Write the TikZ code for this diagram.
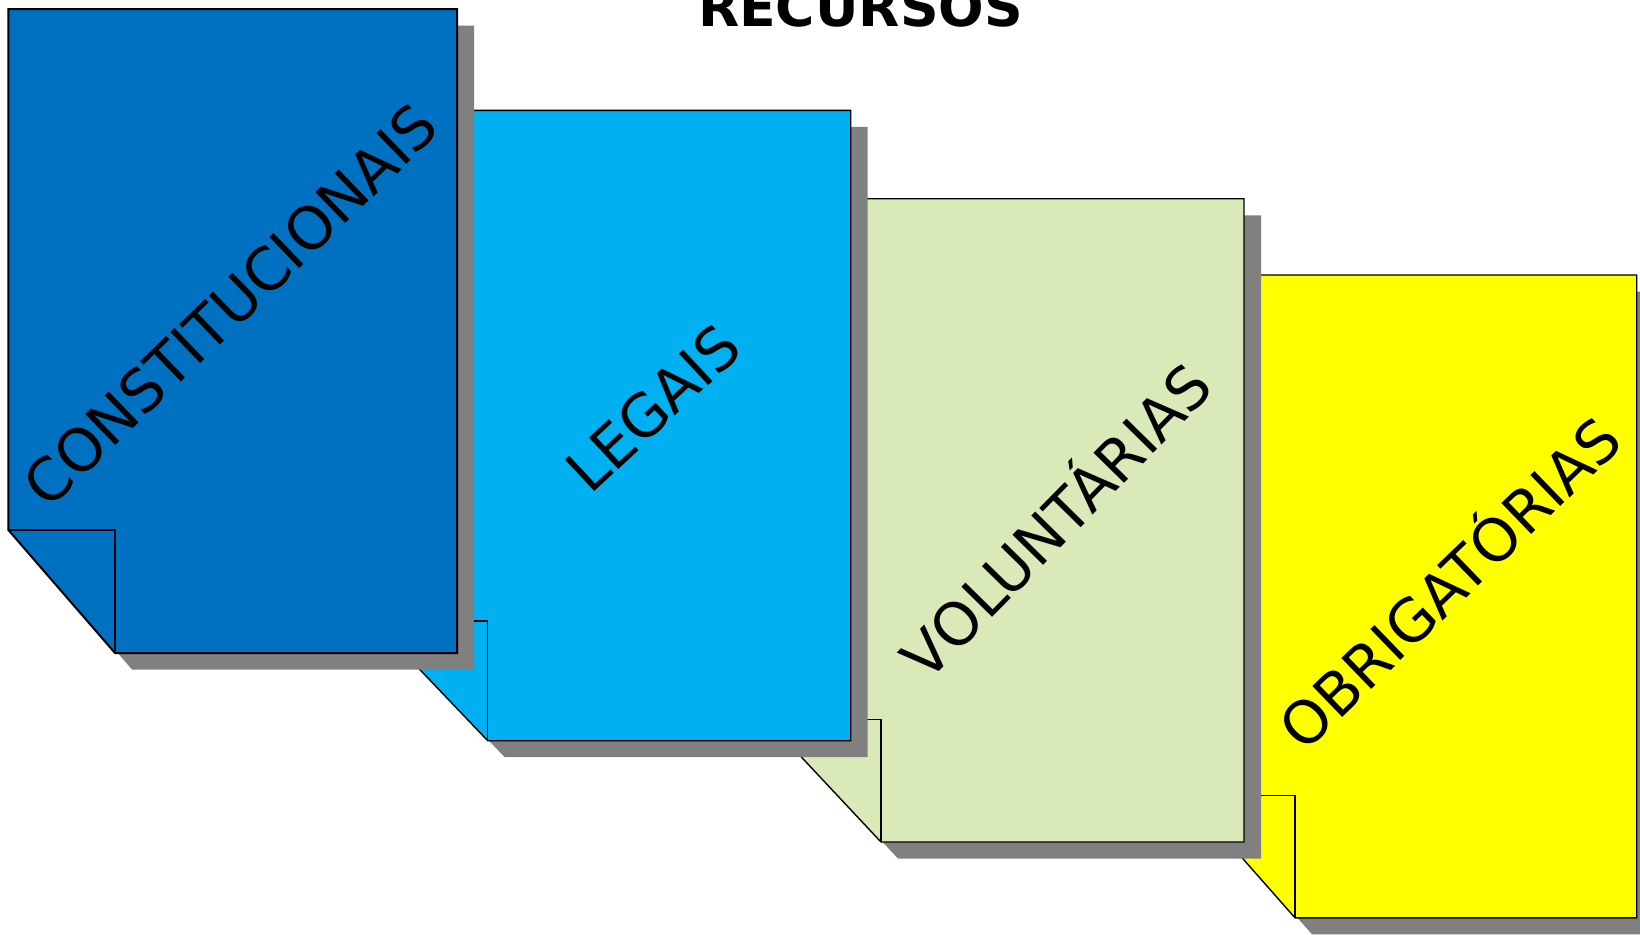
\documentclass[tikz,border=0pt]{standalone}
\usepackage{fontspec}
\newfontfamily\dejavu{DejaVu Sans}
\definecolor{azulescuro}{HTML}{0070C0}
\definecolor{azulclaro}{HTML}{00B0F0}
\definecolor{verdeclaro}{HTML}{D9E9B7}
\definecolor{amarelo}{HTML}{FFFF00}
\definecolor{sombra}{HTML}{808080}
\tikzset{
  sheetshadow/.style={fill=sombra, shift={(17,16.5)}},
  sheetlabel/.style={font=\dejavu\fontsize{29.5}{33}\selectfont, anchor=base, inner sep=0pt, text=black},
  titlelabel/.style={font=\dejavu\bfseries\fontsize{26.8}{30}\selectfont, anchor=base, inner sep=0pt},
}
% sheet with a folded lower-left corner and a drop shadow
% #1 left, #2 top, #3 right, #4 bottom, #5 fold x, #6 fold y, #7 colour, #8 line width
\newcommand{\recpage}[8]{%
  \fill[sheetshadow] (#1,#2) -- (#3,#2) -- (#3,#4) -- (#5,#4) -- (#1,#6) -- cycle;
  \filldraw[fill=#7, draw=black, line width=#8] (#1,#2) -- (#3,#2) -- (#3,#4) -- (#5,#4) -- (#1,#6) -- cycle;
  \draw[line width=#8] (#1,#6) -- (#5,#6) -- (#5,#4);
}
\begin{document}
\begin{tikzpicture}[x=0.5pt, y=-0.5pt]
  \useasboundingbox (0,0) rectangle (1640,934);
  \clip (0,0) rectangle (1640,934);
  \fill[white] (0,0) rectangle (1640,934);

  % sheets, back to front
  \recpage{1187}{275}{1636.7}{917.8}{1295}{795.3}{amarelo}{0.7pt}
  \recpage{766}{198.75}{1244}{842}{881}{719.3}{verdeclaro}{0.7pt}
  \recpage{373.5}{110.4}{850.7}{740.7}{487.7}{621}{azulclaro}{0.7pt}
  \recpage{8.4}{9}{457}{653}{115}{530}{azulescuro}{1pt}

  % labels
  \node[sheetlabel, rotate=44] (constitucionais) at (245.4,320.6) {CONSTITUCIONAIS};
  \node[sheetlabel, rotate=43] (legais) at (667.2,423.7) {LEGAIS};
  \node[sheetlabel, rotate=45.5] (voluntarias) at (1072,536.5) {VOLUNTÁRIAS};
  \node[sheetlabel, rotate=44] (obrigatorias) at (1464.9,599) {OBRIGATÓRIAS};

  % title
  \node[titlelabel] (titulo) at (860.5,26) {RECURSOS};
\end{tikzpicture}
\end{document}
